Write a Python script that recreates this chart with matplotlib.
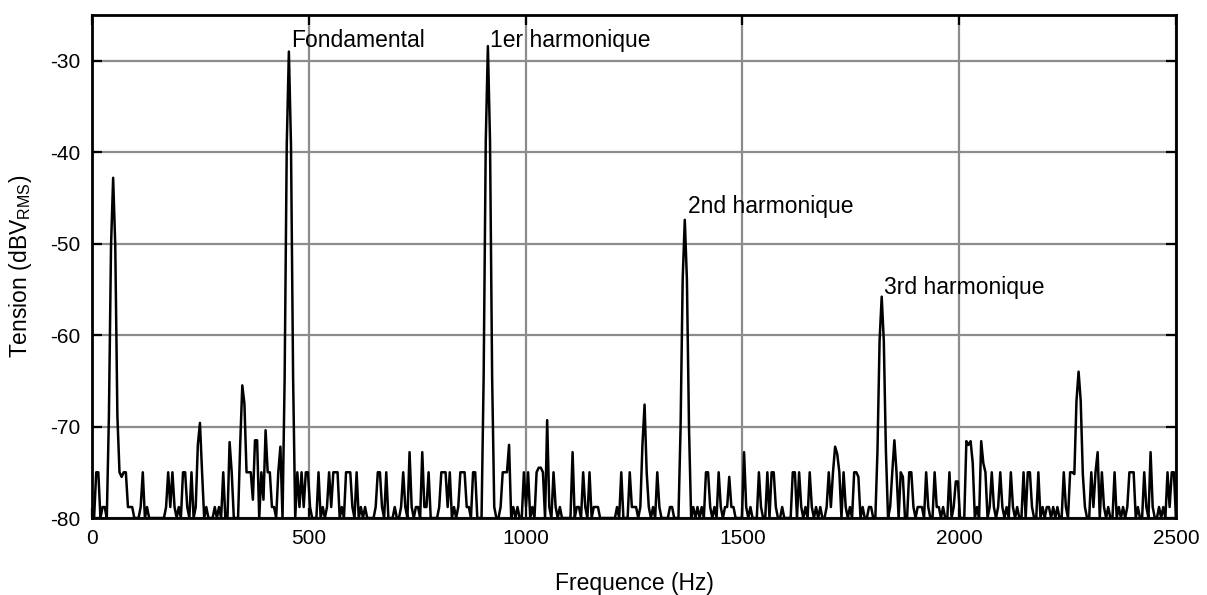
import numpy as np
import matplotlib
matplotlib.use("Agg")
import matplotlib.pyplot as plt

plt.rcParams['font.family'] = ['Liberation Sans', 'DejaVu Sans']
plt.rcParams['mathtext.fontset'] = 'custom'
plt.rcParams['mathtext.rm'] = 'Liberation Sans'
plt.rcParams['axes.unicode_minus'] = False

# ---- data ----
bin_width = 2500 / 512
floor_db = -80

# main lines (Hz, dB)
peak_freqs = [50, 456, 911, 1365, 1821, 2275]
peak_tops = [-42.8, -29.0, -28.4, -47.4, -55.8, -64.0]

# noise spikes (Hz, dB)
noise_freqs = [
    10, 15, 25, 30, 38, 62, 66, 75, 80, 85, 90, 95, 110, 117, 125, 170, 176, 180, 185, 190,
    200, 212, 216, 222, 230, 240, 245, 250, 255, 265, 285, 295, 303, 318, 322, 340, 345, 349,
    353, 358, 363, 368, 373, 378, 383, 390, 395, 399, 404, 410, 415, 420, 430, 437,
    476, 480, 484, 490, 495, 499, 505, 522, 530, 540, 548, 552, 556, 560, 565, 575, 585, 590,
    595, 600, 611, 620,
    629, 655, 660, 664, 670, 680, 700, 715, 718, 725, 733, 738, 745, 750, 760, 765, 773, 778,
    800, 807, 811, 815, 820, 825, 835, 845, 849, 853, 857, 862, 870, 880, 885,
    925, 930, 940, 945, 950, 957, 964, 970, 980, 995, 1000, 1006, 1015, 1025, 1030, 1035, 1040,
    1048, 1055, 1064, 1070, 1080, 1106, 1110, 1120, 1125, 1133, 1140, 1148, 1155, 1160, 1165,
    1210, 1221, 1241,
    1245, 1250, 1255, 1265, 1270, 1275, 1280, 1285, 1295, 1302, 1307, 1310, 1335, 1340,
    1379, 1385, 1395, 1405, 1418, 1422, 1428, 1435, 1445, 1450, 1460, 1465, 1471, 1476, 1480,
    1506, 1510, 1520, 1537, 1545, 1560, 1565, 1571, 1578, 1590, 1617, 1623, 1630, 1636, 1645,
    1656, 1660, 1670, 1680, 1695, 1700, 1705, 1710, 1716, 1721, 1726, 1732, 1740, 1750, 1758,
    1763, 1768, 1775, 1790, 1795, 1833, 1840, 1848, 1852, 1857,
    1864, 1870, 1883, 1888, 1895, 1902, 1908, 1913, 1925, 1930, 1944, 1950, 1955, 1965, 1979,
    1985, 1990, 1997, 2017, 2022, 2027, 2032, 2040, 2052, 2057, 2062, 2070, 2075, 2080, 2088,
    2094, 2100, 2110, 2117, 2125, 2135, 2148, 2160, 2165, 2170, 2183, 2190, 2200, 2205, 2215,
    2225, 2240, 2245, 2255, 2263, 2290, 2305, 2310, 2316, 2321, 2328, 2335, 2345, 2360, 2368,
    2378, 2390, 2394, 2398, 2402, 2410, 2425, 2432, 2440, 2445, 2460, 2470, 2479, 2485, 2490,
    2496,
]
noise_db = [
    -75, -75, -78.8, -78.8, -75, -75, -75.5, -75, -75, -78.8, -78.8, -78.8, -78.8, -75, -78.8, -78.8, -75, -78.8, -75, -78.8,
    -78.8, -75, -75, -78.8, -75, -78.8, -72, -69.6, -75, -78.8, -78.8, -78.8, -75, -71.7, -75, -72, -67, -65.5,
    -67.5, -75, -75, -75, -78, -71.5, -71.5, -75, -78, -70.4, -75, -75, -78.8, -78.8, -75, -72.2,
    -75, -78.8, -75, -78.8, -75, -75, -78.8, -75, -78.8, -78.8, -75, -78.8, -75, -75, -75, -78.8, -75, -75,
    -75, -78.8, -75, -78.8,
    -78.8, -78.8, -75, -75, -78.8, -75, -78.8, -78.8, -75, -78.8, -72.8, -78.8, -78.8, -78.8, -72.8, -78.8, -78.8, -75,
    -78.8, -75, -75, -75, -78.8, -75, -78.8, -78.8, -75, -75, -75, -78.8, -78.8, -75, -75,
    -78.8, -78.8, -78.8, -75, -75, -75, -72, -78.8, -78.8, -75, -78.8, -75, -78.8, -75, -74.5, -74.5, -75,
    -69.3, -78.8, -75, -78.8, -78.8, -72.8, -75, -78.8, -78.8, -75, -78.8, -75, -78.8, -78.8, -78.8,
    -78.8, -75, -75,
    -78.8, -78.8, -78.8, -78.8, -72, -67.6, -75, -78.8, -78.8, -75, -78.8, -78.8, -78.8, -78.8,
    -71.6, -78.8, -78.8, -78.8, -75, -75, -78.8, -78.8, -75, -78.8, -78.8, -78.8, -75.5, -78.8, -78.8,
    -72.8, -78.8, -78.8, -75, -78.8, -75, -75, -75, -78.8, -78.8, -75, -75, -75, -78.8, -78.8,
    -75, -78.8, -78.8, -78.8, -78.8, -75, -78.8, -75, -72.2, -73, -75, -75, -78.8, -78.8, -75,
    -75, -75.5, -78.8, -78.8, -78.8, -75, -78.8, -75, -71.5, -75,
    -75, -75.5, -75, -75, -78.8, -78.8, -78.8, -78.8, -75, -78.8, -75, -78.8, -78.8, -78.8, -75,
    -78.8, -76, -76, -71.6, -72, -71.6, -74, -78.8, -71.6, -74, -75, -78.8, -75, -78.8, -78.8,
    -75, -78.8, -78.8, -75, -78.8, -78.8, -75, -75, -75, -78.8, -75, -78.8, -78.8, -78.8, -78.8,
    -78.8, -75, -78.8, -75, -75, -78.8, -75, -78.8, -75, -72.8, -75, -78.8, -78.8, -75, -78.8,
    -78.8, -78.8, -75, -75, -75, -78.8, -75, -78.8, -72.8, -78.8, -78.8, -78.8, -75, -78.8, -75,
    -75,
]

# peak shape (fraction of height above floor at bin offsets)
peak_offsets = [-2, -1, 0, 1, 2]
peak_fraction = [0.3, 0.8, 1.0, 0.8, 0.3]

labels = ["Fondamental", "1er harmonique", "2nd harmonique", "3rd harmonique"]
label_freqs = [460, 918, 1375, 1826]
label_db = [-27.8, -27.8, -45.9, -54.8]

x_ticks = [0, 500, 1000, 1500, 2000, 2500]
y_ticks = [-80, -70, -60, -50, -40, -30]

# ---- build spectrum on FFT bins ----
freq = np.arange(0, 2500 + bin_width / 2, bin_width)
spec = np.full(freq.shape, float(floor_db))
for f, d in zip(noise_freqs, noise_db):
    i = int(round(f / bin_width))
    if 0 <= i < len(spec):
        spec[i] = max(spec[i], d)
for f, top in zip(peak_freqs, peak_tops):
    i0 = int(round(f / bin_width))
    for off, frac in zip(peak_offsets, peak_fraction):
        i = i0 + off
        if 0 <= i < len(spec):
            spec[i] = max(spec[i], floor_db + frac * (top - floor_db))

# ---- figure ----
fig = plt.figure(figsize=(12.07, 5.95), dpi=100)
ax = fig.add_axes([0.0762, 0.1294, 0.8981, 0.8454])

ax.plot(freq, spec, color='black', lw=1.8, zorder=3, clip_on=True)

ax.set_xlim(0, 2500)
ax.set_ylim(-80, -25)
ax.set_xticks(x_ticks)
ax.set_yticks(y_ticks)
ax.grid(True, color='#8c8c8c', lw=1.6, zorder=1)
ax.set_axisbelow(True)

for s in ax.spines.values():
    s.set_linewidth(2.0)
    s.set_color('black')
    s.set_zorder(4)

ax.tick_params(axis='both', direction='in', length=7, width=1.6, labelsize=15,
               top=True, right=True, pad=8)

ax.set_xlabel("Frequence (Hz)", fontsize=16.5, labelpad=17)
ax.set_ylabel(r"Tension (dBV$_{\mathrm{RMS}}$)", fontsize=16.5, labelpad=12)

for t, f, d in zip(labels, label_freqs, label_db):
    ax.text(f, d, t, fontsize=16.5, ha='left', va='center', zorder=5)

fig.savefig("out.png", dpi=100)
